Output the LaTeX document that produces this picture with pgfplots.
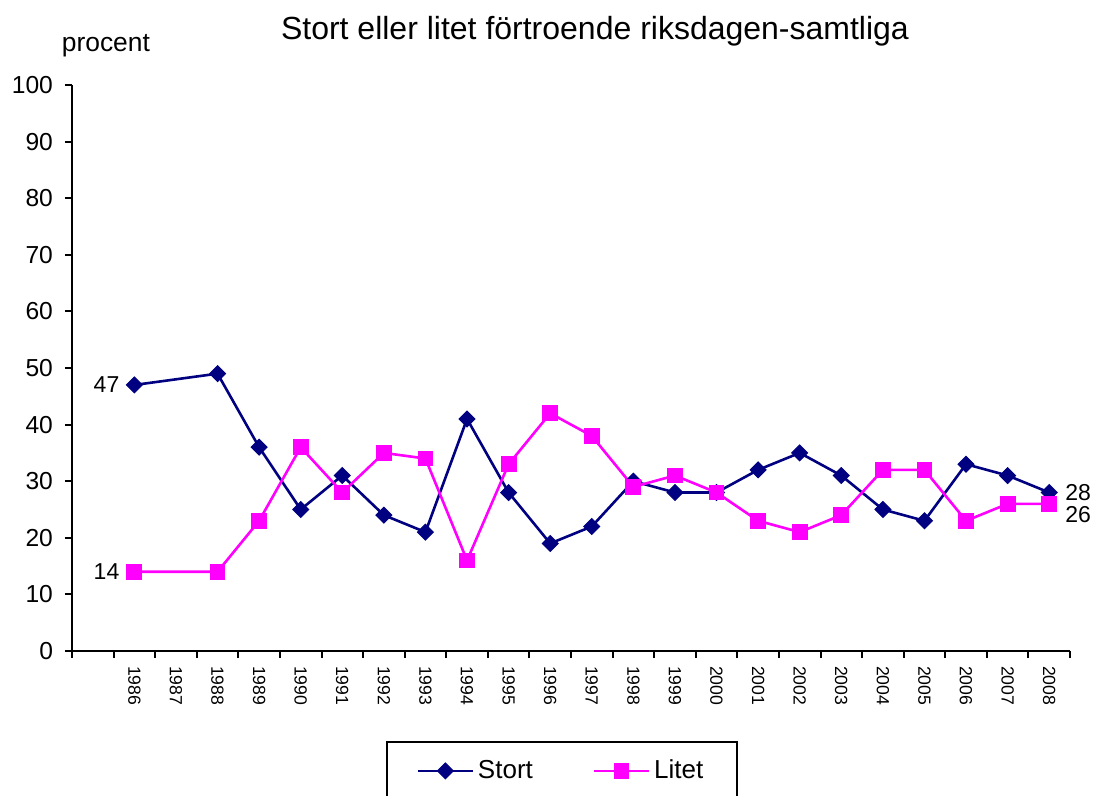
\documentclass[border=0pt]{standalone}
\usepackage{fontspec}
\setmainfont{Liberation Sans}
\usepackage{pgfplots}
\pgfplotsset{compat=1.18}
\definecolor{navy}{RGB}{0,0,128}
\definecolor{mag}{RGB}{255,0,255}
\begin{document}
\begin{tikzpicture}
\begin{axis}[
  scale only axis, width=499pt, height=283pt,
  xmin=-0.5, xmax=23.5, ymin=0, ymax=100,
  axis x line*=bottom, axis y line*=left,
  axis line style={line width=1pt},
  tick style={line width=1pt, black},
  tick align=outside, major tick length=3.5pt,
  xtick={-0.5,0.5,...,23.5}, xticklabels={},
  extra x ticks={1,2,3,4,5,6,7,8,9,10,11,12,13,14,15,16,17,18,19,20,21,22,23},
  extra x tick labels={1986,1987,1988,1989,1990,1991,1992,1993,1994,1995,1996,1997,1998,1999,2000,2001,2002,2003,2004,2005,2006,2007,2008},
  extra x tick style={major tick length=0pt, tick label style={rotate=-90, anchor=west, font=\fontsize{8.8}{10}\selectfont, xshift=4pt}},
  ytick={0,10,...,100},
  yticklabel style={font=\fontsize{12.3}{14}\selectfont, xshift=-2.5pt},
  /pgf/number format/assume math mode=true,
  clip=false,
  legend columns=2,
  legend style={at={(0.491,-0.159)}, anchor=north, draw=black, line width=1pt,
    font=\fontsize{13}{15}\selectfont, inner xsep=15pt, inner ysep=7pt,
    /tikz/every even column/.append style={column sep=28pt}},
  legend image code/.code={\draw[mark repeat=2, mark phase=2] plot coordinates {(0cm,0cm) (0.48cm,0cm) (0.96cm,0cm)};},
]
\addplot[navy, line width=1.3pt, mark=square*, mark size=2.8pt, mark options={rotate=45, fill=navy, line width=0.5pt}]
 coordinates {(1,47)(3,49)(4,36)(5,25)(6,31)(7,24)(8,21)(9,41)(10,28)(11,19)(12,22)(13,30)(14,28)(15,28)(16,32)(17,35)(18,31)(19,25)(20,23)(21,33)(22,31)(23,28)};
\addlegendentry{Stort}
\addplot[mag, line width=1.3pt, mark=square*, mark size=3.7pt, mark options={fill=mag, line width=0.5pt}]
 coordinates {(1,14)(3,14)(4,23)(5,36)(6,28)(7,35)(8,34)(9,16)(10,33)(11,42)(12,38)(13,29)(14,31)(15,28)(16,23)(17,21)(18,24)(19,32)(20,32)(21,23)(22,26)(23,26)};
\addlegendentry{Litet}
\node[anchor=east, font=\fontsize{11.5}{13}\selectfont] at (axis cs:1,47) [xshift=-4pt] {47};
\node[anchor=east, font=\fontsize{11.5}{13}\selectfont] at (axis cs:1,14) [xshift=-4pt] {14};
\node[anchor=west, font=\fontsize{11.5}{13}\selectfont] at (axis cs:23,28) [xshift=4.5pt] {28};
\node[anchor=west, font=\fontsize{11.5}{13}\selectfont] at (axis cs:23,26) [xshift=4.5pt, yshift=-5.5pt] {26};
\node[font=\fontsize{16}{18}\selectfont] at (rel axis cs:0.524,1) [yshift=27pt] {Stort eller litet förtroende riksdagen-samtliga};
\node[font=\fontsize{13.2}{15}\selectfont] at (rel axis cs:0.034,1) [yshift=19.5pt] {procent};
\end{axis}
\pgfresetboundingbox
\path[use as bounding box] ([xshift=-36pt,yshift=-72.5pt]current axis.south west) rectangle ([xshift=11.5pt,yshift=42.5pt]current axis.north east);
\end{tikzpicture}
\end{document}
